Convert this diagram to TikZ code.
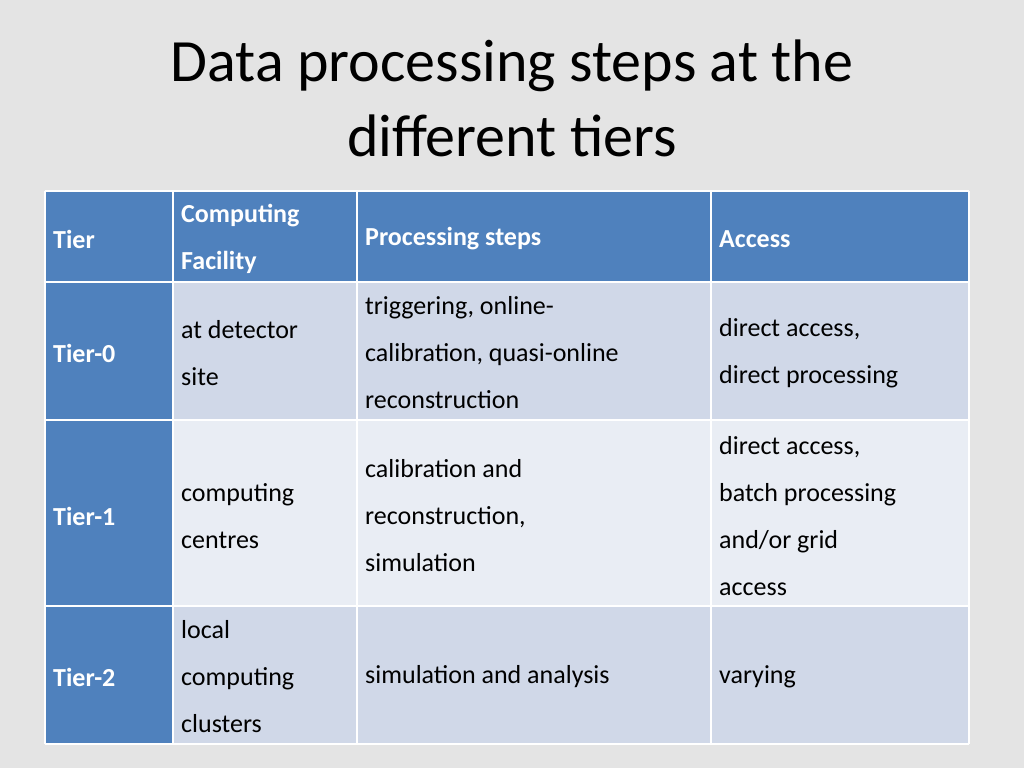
\documentclass[tikz,border=0pt]{standalone}
\usepackage{fontspec}
\setmainfont{Carlito}
\usetikzlibrary{positioning}
\definecolor{hdblue}{RGB}{79,129,189}
\definecolor{rowdark}{RGB}{208,216,232}
\definecolor{rowlight}{RGB}{233,237,244}
\definecolor{slidebg}{RGB}{228,228,228}
\begin{document}
\begin{tikzpicture}[x=1pt,y=-1pt,
    cell/.style={anchor=west,inner sep=0pt,align=left,font=\fontsize{26}{47}\selectfont},
    head/.style={cell,text=white,font=\fontsize{26}{47}\selectfont\bfseries},
    tier/.style={cell,font=\fontsize{26}{47}\selectfont\bfseries},
    grid/.style={white,line width=2.5pt}]
        \fill [slidebg] (0,0) rectangle (1024,768);
        \useasboundingbox (0,0) rectangle (1024,768);
        \node (title) [align=center,font=\fontsize{60}{75}\selectfont] at (512,98) {Data processing steps at the\\different tiers};
        % cell backgrounds
        \fill [hdblue] (45,191) rectangle (969,282);
        \fill [hdblue] (45,282) rectangle (173,744);
        \fill [rowdark] (173,282) rectangle (969,420);
        \fill [rowlight] (173,420) rectangle (969,606);
        \fill [rowdark] (173,606) rectangle (969,744);
        % grid
        \foreach \yy in {191,282,420,606,744}
          \draw [grid] (45,\yy) -- (969,\yy);
        \foreach \xx in {45,173,357,711,969}
          \draw [grid] (\xx,191) -- (\xx,744);
        % header
        \node (hTier) [head] at (53,239) {Tier};
        \node (hFac) [head] at (181,239) {Computing\\Facility};
        \node (hSteps) [head] at (365,239) {Processing steps};
        \node (hAccess) [head] at (719,239) {Access};
        % tier 0
        \node (tA) [tier,text=white] at (53,353) {Tier-0};
        \node (fA) [cell] at (181,353) {at detector\\site};
        \node (sA) [cell] at (365,353) {triggering, online-\\calibration, quasi-online\\reconstruction};
        \node (aA) [cell] at (719,353) {direct access,\\direct processing};
        % tier 1
        \node (tB) [tier,text=white] at (53,516) {Tier-1};
        \node (fB) [cell] at (181,516) {computing\\centres};
        \node (sB) [cell] at (365,516) {calibration and\\reconstruction,\\simulation};
        \node (aB) [cell] at (719,516) {direct access,\\batch processing\\and/or grid\\access};
        % tier 2
        \node (tC) [tier,text=white] at (53,677) {Tier-2};
        \node (fC) [cell] at (181,677) {local\\computing\\clusters};
        \node (sC) [cell] at (365,677) {simulation and analysis};
        \node (aC) [cell] at (719,677) {varying};
\end{tikzpicture}
\end{document}
